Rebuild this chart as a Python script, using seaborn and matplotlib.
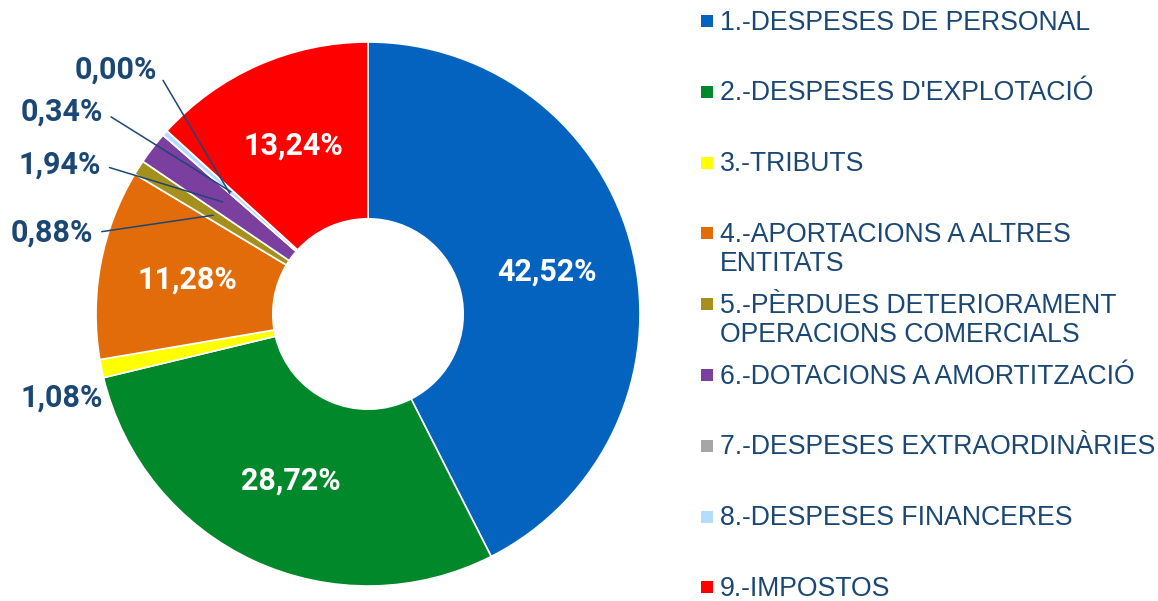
import numpy as np
import matplotlib
matplotlib.use("Agg")
import matplotlib.pyplot as plt
import seaborn as sns

# dades del gràfic
categories = [
    "1.-DESPESES DE PERSONAL",
    "2.-DESPESES D'EXPLOTACIÓ",
    "3.-TRIBUTS",
    "4.-APORTACIONS A ALTRES\nENTITATS",
    "5.-PÈRDUES DETERIORAMENT\nOPERACIONS COMERCIALS",
    "6.-DOTACIONS A AMORTITZACIÓ",
    "7.-DESPESES EXTRAORDINÀRIES",
    "8.-DESPESES FINANCERES",
    "9.-IMPOSTOS",
]
values = [42.52, 28.72, 1.08, 11.28, 0.88, 1.94, 0.00, 0.34, 13.24]
colors = ["#0563C0", "#00882B", "#FFFF00", "#E36C0A", "#A6901C",
          "#7B3FA0", "#A6A6A6", "#B4DCFF", "#FF0000"]

# posicio de les etiquetes exteriors (vora dreta del text), en unitats de radi
outside_pos = {
    6: (-0.776, 0.897),
    7: (-0.974, 0.743),
    5: (-0.982, 0.548),
    4: (-1.011, 0.298),
    2: (-0.974, -0.309),
}
leader = {6: True, 7: True, 5: True, 4: True, 2: False}

dark_blue = "#1B4775"

sns.set_theme(style="white")
plt.rcParams['font.family'] = ['Liberation Sans', 'DejaVu Sans']
palette = sns.color_palette(colors)

fig = plt.figure(figsize=(11.58, 6.01), dpi=100)
ax = fig.add_axes([96 / 1158, 15 / 601, 544 / 1158, 544 / 601])

wedges, _ = ax.pie(values, colors=palette, startangle=90, counterclock=False,
                   radius=1, wedgeprops=dict(width=0.65, edgecolor="white", linewidth=1.2))
ax.set_xlim(-1, 1)
ax.set_ylim(-1, 1)
ax.set_aspect("equal")
ax.axis("off")

lbl_font = dict(fontsize=22, fontweight="bold", fontfamily=["Roboto", "DejaVu Sans"])
ring_r = 0.675
for i, w in enumerate(wedges):
    mid = np.deg2rad((w.theta1 + w.theta2) / 2)
    txt = f"{values[i]:.2f}%".replace(".", ",")
    px, py = ring_r * np.cos(mid), ring_r * np.sin(mid)
    if i in outside_pos:
        tx, ty = outside_pos[i]
        if leader[i]:
            ax.annotate(txt, xy=(px, py), xytext=(tx, ty), ha="right", va="center",
                        color=dark_blue, **lbl_font,
                        arrowprops=dict(arrowstyle="-", color=dark_blue, lw=1.1,
                                        relpos=(1, 0.5), shrinkA=4, shrinkB=0))
        else:
            ax.text(tx, ty, txt, ha="right", va="center", color=dark_blue, **lbl_font)
    else:
        ax.text(px, py, txt, ha="center", va="center", color="white", **lbl_font)

# llegenda dibuixada a ma per mantenir l'espaiat fix de les files
lax = fig.add_axes([0, 0, 1, 1])
lax.set_xlim(0, 1158)
lax.set_ylim(601, 0)
lax.axis("off")
row_top = 21
row_step = 70.8
for k, name in enumerate(categories):
    y = row_top + k * row_step
    lax.scatter([707], [y], marker="s", s=75, color=palette[k], linewidths=0)
    lax.text(720, y - 11.5, name, ha="left", va="top", fontsize=19.2,
             color=dark_blue, linespacing=1.17)

fig.savefig("out.png", dpi=100)
